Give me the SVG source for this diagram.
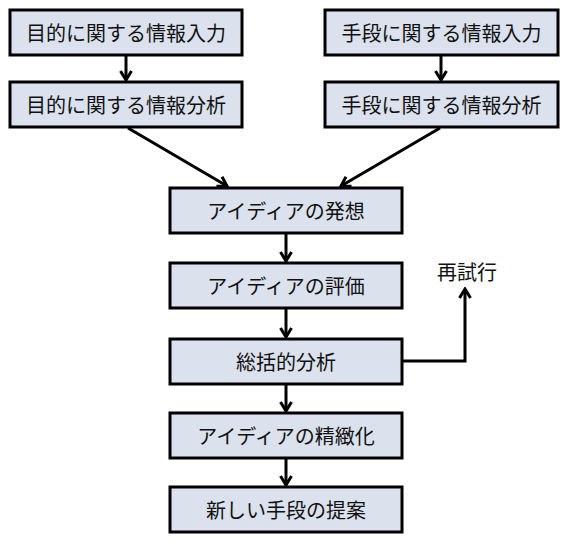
<svg xmlns="http://www.w3.org/2000/svg" width="567" height="540" viewBox="0 0 567 540">
<style>
.box{fill:#dbe2ee;stroke:#000;stroke-width:3}
.t{font-family:"Noto Sans CJK JP","Noto Sans CJK SC",sans-serif;font-size:20px;fill:#111;text-anchor:middle;dominant-baseline:central}
.c{fill:none;stroke:#000;stroke-width:3}
</style>
<defs>
<marker id="ah" viewBox="0 0 14 14" refX="12" refY="7" markerWidth="14" markerHeight="14" markerUnits="userSpaceOnUse" orient="auto">
<path d="M3,1.5 L12,7 L3,12.5" fill="none" stroke="#000" stroke-width="3"/>
</marker>
</defs>
<rect width="567" height="540" fill="#fff"/>
<g id="connectors">
<line class="c" x1="126" y1="56" x2="126" y2="80" marker-end="url(#ah)"/>
<line class="c" x1="441" y1="56" x2="441" y2="80" marker-end="url(#ah)"/>
<line class="c" x1="128" y1="128" x2="227" y2="186" marker-end="url(#ah)"/>
<line class="c" x1="440" y1="128" x2="341" y2="186" marker-end="url(#ah)"/>
<line class="c" x1="286" y1="234" x2="286" y2="261" marker-end="url(#ah)"/>
<line class="c" x1="286" y1="309" x2="286" y2="337" marker-end="url(#ah)"/>
<line class="c" x1="286" y1="385" x2="286" y2="411" marker-end="url(#ah)"/>
<line class="c" x1="286" y1="459" x2="286" y2="485" marker-end="url(#ah)"/>
<polyline class="c" points="402,361 465,361 465,289" marker-end="url(#ah)"/>
</g>
<g id="n1"><rect class="box" x="10" y="10" width="232" height="45"/><text class="t" x="126" y="32.5">目的に関する情報入力</text></g>
<g id="n2"><rect class="box" x="10" y="82" width="232" height="45"/><text class="t" x="126" y="104.5">目的に関する情報分析</text></g>
<g id="n3"><rect class="box" x="325" y="10" width="233" height="45"/><text class="t" x="441.5" y="32.5">手段に関する情報入力</text></g>
<g id="n4"><rect class="box" x="325" y="82" width="233" height="45"/><text class="t" x="441.5" y="104.5">手段に関する情報分析</text></g>
<g id="n5"><rect class="box" x="170" y="188" width="232" height="45"/><text class="t" x="286" y="210.5">アイディアの発想</text></g>
<g id="n6"><rect class="box" x="170" y="263" width="232" height="45"/><text class="t" x="286" y="285.5">アイディアの評価</text></g>
<g id="n7"><rect class="box" x="170" y="339" width="232" height="45"/><text class="t" x="286" y="361.5">総括的分析</text></g>
<g id="n8"><rect class="box" x="170" y="413" width="232" height="45"/><text class="t" x="286" y="435.5">アイディアの精緻化</text></g>
<g id="n9"><rect class="box" x="170" y="487" width="232" height="45"/><text class="t" x="286" y="509.5">新しい手段の提案</text></g>
<g id="retry"><text class="t" x="467" y="271">再試行</text></g>
</svg>
